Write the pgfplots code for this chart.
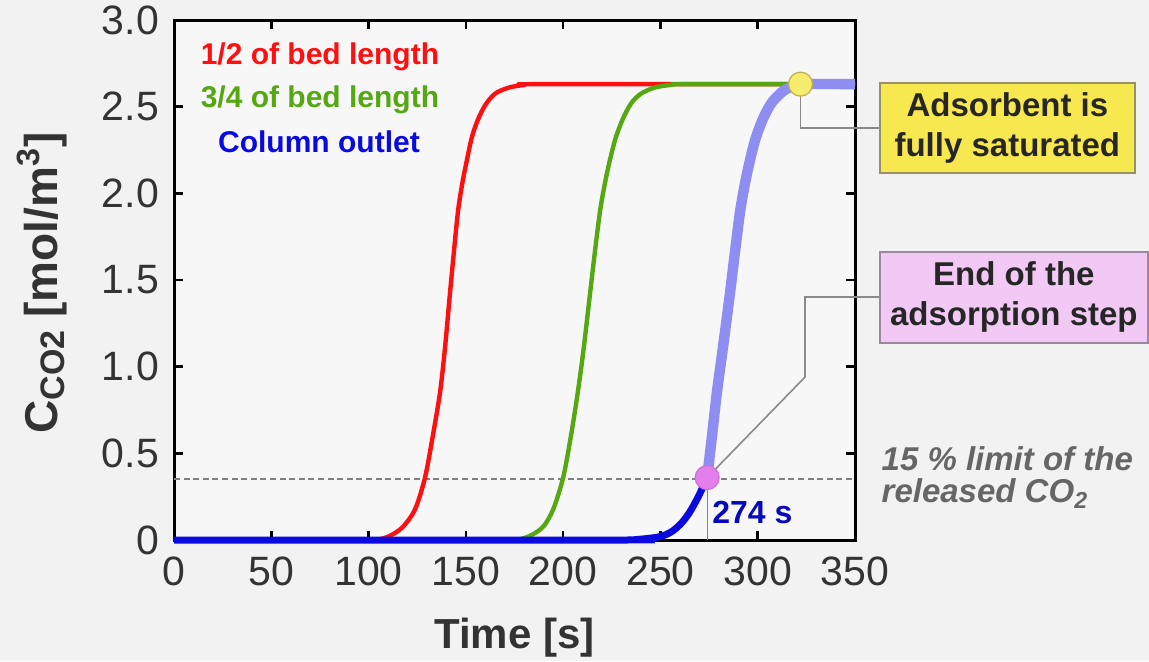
\documentclass[border=0pt]{standalone}
\usepackage{fontspec}
\setmainfont{Liberation Sans}
\usepackage{pgfplots}
\pgfplotsset{compat=1.18}
\definecolor{cred}{HTML}{FF1010}
\definecolor{cgreen}{HTML}{55A811}
\definecolor{cblue}{HTML}{0A0AE0}
\definecolor{clblue}{HTML}{8E8EF2}
\definecolor{bg}{HTML}{F2F2F2}
\definecolor{plotbg}{HTML}{F7F7F7}
\definecolor{ybox}{HTML}{F8E850}
\definecolor{yboxd}{HTML}{9A9160}
\definecolor{pbox}{HTML}{F2C8F4}
\definecolor{pboxd}{HTML}{9C86A0}
\definecolor{ycirc}{HTML}{F6EC6E}
\definecolor{ycircd}{HTML}{C0B050}
\definecolor{pcirc}{HTML}{E47EEA}
\definecolor{pcircd}{HTML}{D070D8}
\definecolor{conn}{HTML}{8A8A8A}
\definecolor{tlab}{HTML}{333333}
\begin{document}
\begin{tikzpicture}
\path[use as bounding box, fill=bg] (0,0) rectangle (574.5pt,330.5pt);
\begin{axis}[
  at={(87pt,60.5pt)}, anchor=south west,
  scale only axis, width=340.5pt, height=260pt,
  xmin=0, xmax=350, ymin=0, ymax=3,
  xtick={0,50,100,150,200,250,300,350},
  xticklabels={0,50,100,150,200,250,300,350},
  ytick={0,0.5,1,1.5,2,2.5,3},
  yticklabels={0,0.5,1.0,1.5,2.0,2.5,3.0},
  xtick pos=both, ytick pos=both,
  xtick align=inside, ytick align=inside,
  major tick length=4.5pt,
  every major tick/.append style={draw=black, line width=1.3pt},
  axis line style={black, line width=1.5pt},
  axis background/.style={fill=plotbg},
  clip=false,
  /pgf/number format/assume math mode=true,
  tick label style={font=\fontsize{20.5}{24}\selectfont, text=tlab},
  xticklabel style={yshift=-5pt},
  yticklabel style={xshift=-4pt},
  xlabel={\bfseries Time [s]},
  xlabel style={font=\fontsize{21}{25}\selectfont, text=tlab, at={(rel axis cs:0.5,-0.187)}, anchor=center},
  ylabel={\bfseries C\raisebox{-3.5pt}{\fontsize{17}{17}\selectfont CO2} [mol/m\textsuperscript{3}]},
  ylabel style={font=\fontsize{23}{26}\selectfont, text=tlab, at={(rel axis cs:-0.194,0.494)}, anchor=center},
]
% 15% limit line
\addplot[color=gray, line width=1pt, dash pattern=on 3pt off 1.8pt] coordinates {(0,0.35) (350,0.35)};
% 1/2 of bed length
\addplot[color=cred, line width=2.2pt, smooth, tension=0.5] coordinates {
(0,0) (100,0) (106,0.005) (112,0.03) (118,0.08) (124,0.18) (129,0.36) (133,0.6) (136.7,0.85) (139.2,1.1) (141.8,1.42) (144,1.68) (146,1.9) (148.2,2.06) (150.5,2.19) (153,2.32) (156,2.42) (160,2.51) (165,2.575) (172,2.61) (180,2.625) (190,2.63) (350,2.63)};
% 3/4 of bed length
\addplot[color=cgreen, line width=2.2pt, smooth, tension=0.5] coordinates {
(0,0) (172,0) (178,0.005) (184,0.03) (190,0.08) (195,0.18) (200,0.36) (204,0.6) (207.5,0.85) (210.5,1.1) (213.8,1.42) (216.5,1.68) (219,1.9) (221.5,2.06) (224,2.19) (227,2.32) (230.7,2.43) (235,2.52) (240,2.575) (247,2.61) (255,2.625) (265,2.63) (350,2.63)};
% column outlet after 274 s
\addplot[color=clblue, line width=5.2pt, smooth, tension=0.5] coordinates {
(274,0.36) (276.5,0.6) (279,0.85) (282,1.1) (285.7,1.42) (288.5,1.68) (291,1.9) (293.5,2.06) (296,2.19) (299,2.32) (302.7,2.43) (307,2.52) (312,2.58) (317,2.615) (322,2.63) (350,2.63)};
% column outlet until 274 s
\addplot[color=cblue, line width=3.5pt, smooth, tension=0.5] coordinates {
(0,0) (230,0) (240,0.005) (250,0.02) (256,0.05) (261,0.1) (265,0.16) (269,0.24) (272,0.31) (274,0.36)};
% thin marker line at 274 s
\addplot[color=olive!50!gray, line width=0.5pt] coordinates {(274,0) (274,0.36)};
% connectors
\addplot[color=conn, line width=0.8pt] coordinates {(322,2.63) (322,2.377) (362.8,2.377)};
\addplot[color=conn, line width=0.8pt] coordinates {(274,0.36) (324.3,0.94) (324.3,1.402) (362.8,1.402)};
% circles
\addplot[only marks, mark=*, mark size=6pt, mark options={fill=ycirc, draw=ycircd, line width=0.6pt}] coordinates {(322,2.63)};
\addplot[only marks, mark=*, mark size=6pt, mark options={fill=pcirc, draw=pcircd, line width=0.6pt}] coordinates {(274,0.36)};
% labels inside
\node[text=cred, font=\fontsize{15}{18}\selectfont\bfseries] at (axis cs:75,2.787) {1/2 of bed length};
\node[text=cgreen, font=\fontsize{15}{18}\selectfont\bfseries] at (axis cs:75,2.539) {3/4 of bed length};
\node[text=cblue, font=\fontsize{15}{18}\selectfont\bfseries] at (axis cs:74.5,2.297) {Column outlet};
\node[text=cblue!85!black, font=\fontsize{16}{19}\selectfont\bfseries, anchor=west, inner sep=0pt] at (axis cs:276.5,0.16) {274 s};
% boxes
\node[fill=ybox, draw=yboxd, line width=0.7pt, minimum width=127.5pt, minimum height=45pt, align=center, inner sep=0pt, font=\fontsize{16.5}{20}\selectfont\bfseries, text=black!85] at (axis cs:428.3,2.378) {Adsorbent is\\fully saturated};
\node[fill=pbox, draw=pboxd, line width=0.7pt, minimum width=134pt, minimum height=45.5pt, align=center, inner sep=0pt, font=\fontsize{16.5}{20}\selectfont\bfseries, text=black!85] at (axis cs:431.65,1.40) {End of the\\adsorption step};
\node[anchor=west, align=left, inner sep=0pt, text=black!60, font=\fontsize{16.5}{16}\selectfont\bfseries\itshape] at (axis cs:363.5,0.36) {15 \% limit of the\\released CO\textsubscript{2}};
\end{axis}
\end{tikzpicture}
\end{document}
